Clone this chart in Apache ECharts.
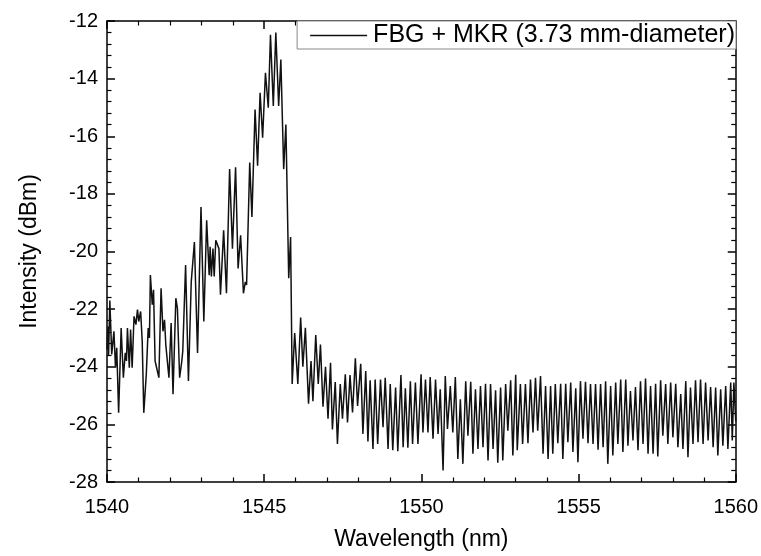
<!DOCTYPE html>
<html>
<head>
<meta charset="utf-8">
<script src="https://cdn.jsdelivr.net/npm/echarts@6/dist/echarts.min.js"></script>
<style>
html,body{margin:0;padding:0;background:#fff;}
#chart{width:761px;height:556px;}
</style>
</head>
<body>
<div id="chart"></div>
<script>
var seriesName = 'FBG + MKR (3.73 mm-diameter)';
var xTitle = 'Wavelength (nm)';
var yTitle = 'Intensity (dBm)';

var wavelength = [
1540.00,1540.03,1540.05,1540.09,1540.15,1540.22,1540.27,1540.31,1540.37,1540.45,
1540.52,1540.58,1540.62,1540.65,1540.71,1540.75,1540.80,1540.86,1540.92,1540.97,
1541.01,1541.07,1541.12,1541.17,1541.25,1541.31,1541.35,1541.38,1541.44,1541.48,
1541.53,1541.59,1541.65,1541.72,1541.78,1541.83,1541.87,1541.92,1541.97,1542.04,
1542.10,1542.19,1542.24,1542.31,1542.38,1542.41,1542.50,1542.59,1542.68,1542.73,
1542.78,1542.88,1542.99,1543.08,1543.17,1543.25,1543.28,1543.32,1543.37,1543.41,
1543.46,1543.50,1543.56,1543.61,1543.71,1543.80,1543.90,1543.99,1544.09,1544.17,
1544.25,1544.34,1544.40,1544.44,1544.54,1544.61,1544.71,1544.79,1544.87,1544.95,
1545.04,1545.13,1545.20,1545.29,1545.37,1545.46,1545.53,1545.62,1545.69,1545.78,
1545.84,1545.89,1545.97,1546.07,1546.16,1546.23,1546.31,1546.41,1546.49,1546.55,
1546.64,1546.72,1546.79,1546.87,1546.95,1547.03,1547.11,1547.17,1547.26,1547.33,
1547.42,1547.49,1547.58,1547.65,1547.73,1547.81,1547.90,1547.97,1548.07,1548.14,
1548.23,1548.30,1548.37,1548.46,1548.53,1548.61,1548.70,1548.78,1548.85,1548.94,
1549.01,1549.09,1549.18,1549.25,1549.35,1549.42,1549.49,1549.57,1549.65,1549.72,
1549.81,1549.89,1549.99,1550.05,1550.13,1550.21,1550.28,1550.37,1550.45,1550.53,
1550.60,1550.69,1550.76,1550.83,1550.92,1551.00,1551.08,1551.16,1551.24,1551.32,
1551.41,1551.48,1551.57,1551.64,1551.72,1551.80,1551.88,1551.96,1552.04,1552.12,
1552.20,1552.28,1552.36,1552.43,1552.52,1552.59,1552.68,1552.75,1552.84,1552.91,
1553.00,1553.05,1553.15,1553.22,1553.31,1553.39,1553.47,1553.55,1553.63,1553.70,
1553.79,1553.87,1553.95,1554.03,1554.11,1554.18,1554.26,1554.34,1554.43,1554.50,
1554.59,1554.66,1554.75,1554.82,1554.91,1554.98,1555.06,1555.14,1555.22,1555.30,
1555.38,1555.46,1555.54,1555.62,1555.70,1555.78,1555.86,1555.93,1556.02,1556.09,
1556.18,1556.25,1556.34,1556.41,1556.50,1556.57,1556.65,1556.73,1556.81,1556.89,
1556.97,1557.05,1557.13,1557.21,1557.29,1557.37,1557.45,1557.52,1557.61,1557.68,
1557.77,1557.84,1557.93,1558.00,1558.09,1558.16,1558.25,1558.32,1558.41,1558.48,
1558.56,1558.64,1558.72,1558.80,1558.88,1558.96,1559.04,1559.12,1559.20,1559.28,
1559.36,1559.43,1559.52,1559.59,1559.68,1559.75,1559.84,1559.89,1559.94,1560.00
];

var intensity = [
-23.40,-22.60,-23.60,-21.70,-23.57,-22.77,-24.03,-23.34,-25.60,-22.66,
-24.38,-23.52,-23.80,-22.66,-24.03,-22.71,-24.03,-22.25,-22.54,-22.02,
-22.43,-22.08,-23.11,-25.60,-24.26,-22.66,-23.00,-20.82,-21.85,-21.33,
-23.80,-23.86,-24.38,-21.28,-22.77,-22.37,-23.23,-23.29,-24.38,-22.48,
-24.95,-21.62,-21.97,-24.38,-23.80,-23.46,-20.47,-24.49,-21.05,-20.99,
-19.67,-23.52,-18.46,-22.43,-18.92,-20.82,-19.84,-20.87,-19.90,-20.87,
-19.61,-19.72,-19.90,-21.50,-19.26,-21.45,-17.14,-19.90,-17.08,-20.59,
-19.44,-21.45,-21.05,-21.16,-16.91,-18.80,-15.07,-17.02,-14.49,-16.05,
-13.80,-15.01,-12.48,-14.95,-12.40,-14.95,-13.34,-17.14,-15.59,-20.93,
-19.50,-24.60,-22.83,-24.60,-22.29,-24.00,-22.65,-25.28,-23.80,-25.20,
-22.90,-24.60,-23.23,-25.39,-24.00,-25.80,-23.86,-26.18,-24.53,-26.68,
-24.60,-25.80,-24.26,-25.93,-24.29,-25.59,-23.71,-25.36,-23.90,-26.33,
-24.15,-26.59,-24.47,-26.85,-24.44,-26.68,-24.44,-26.10,-24.38,-26.85,
-24.60,-26.90,-24.72,-26.93,-24.29,-26.79,-24.75,-26.81,-24.50,-26.68,
-24.55,-26.68,-24.26,-26.28,-24.44,-26.28,-24.36,-26.50,-24.44,-26.33,
-24.78,-27.60,-24.32,-26.16,-24.67,-26.28,-24.36,-27.20,-25.13,-27.37,
-24.50,-26.39,-24.52,-27.02,-24.78,-26.85,-24.67,-26.79,-24.59,-27.25,
-24.60,-26.85,-24.82,-27.33,-24.72,-27.25,-24.60,-26.22,-24.47,-27.08,
-24.28,-26.90,-24.60,-26.68,-24.60,-26.65,-24.44,-26.28,-24.38,-26.22,
-24.32,-27.02,-24.67,-27.20,-24.67,-27.02,-24.60,-26.65,-24.59,-27.20,
-24.59,-26.62,-24.55,-26.96,-24.75,-27.31,-24.50,-26.50,-24.52,-26.65,
-24.60,-26.68,-24.60,-26.88,-24.60,-26.79,-24.50,-27.37,-24.67,-27.08,
-24.55,-26.68,-24.44,-26.96,-24.44,-26.74,-24.84,-26.56,-24.70,-26.90,
-24.50,-26.68,-24.41,-27.02,-24.67,-27.02,-24.59,-27.11,-24.47,-26.39,
-24.60,-26.68,-24.55,-26.45,-24.59,-26.79,-24.95,-26.85,-24.50,-27.14,
-24.72,-26.68,-24.47,-26.62,-24.44,-26.68,-24.55,-26.56,-24.70,-26.79,
-24.72,-27.08,-24.78,-26.74,-24.67,-26.85,-24.55,-26.56,-24.55,-25.90
];

var xMin = 1540, xMax = 1560, xStep = 5;
var yMin = -28, yMax = -12, yStep = 2;

var points = wavelength.map(function (w, i) { return [w, intensity[i]]; });

var FONT = 'Liberation Sans, Arial, sans-serif';
var LINE_COLOR = '#111111';
var axisLine = { show: true, lineStyle: { color: '#000', width: 1.5 } };
function tick(){ return { show: true, inside: true, length: 8, lineStyle: { color: '#000', width: 1.5 } }; }
function minor(){ return { show: true, splitNumber: 5, length: 4.5, lineStyle: { color: '#000', width: 1.2 } }; }

var chart = echarts.init(document.getElementById('chart'), null, { renderer: 'canvas' });
chart.setOption({
  backgroundColor: '#fff',
  animation: false,
  color: [LINE_COLOR],
  grid: { left: 107, right: 25, top: 21, bottom: 68, containLabel: false },
  legend: {
    data: [{ name: seriesName, icon: 'rect' }],
    right: 25, top: 21,
    orient: 'horizontal',
    itemWidth: 57, itemHeight: 1.5, itemGap: 5,
    padding: [2, 1, 1, 13],
    borderColor: '#8a8a8a', borderWidth: 1,
    backgroundColor: '#fff',
    itemStyle: { color: LINE_COLOR },
    textStyle: { fontFamily: FONT, fontSize: 25, color: '#000', padding: [0, 0, 0, 1] }
  },
  xAxis: [{
    type: 'value', position: 'bottom', min: xMin, max: xMax, interval: xStep,
    name: xTitle, nameLocation: 'middle', nameGap: 46,
    nameTextStyle: { fontFamily: FONT, fontSize: 23, color: '#000' },
    axisLine: axisLine, axisTick: tick(), minorTick: minor(),
    splitLine: { show: false },
    axisLabel: { fontFamily: FONT, fontSize: 20, color: '#000', margin: 15,
      formatter: function (v) { return String(v); } }
  }, {
    type: 'value', position: 'top', min: xMin, max: xMax, interval: xStep,
    axisLine: axisLine, axisTick: tick(), minorTick: minor(),
    splitLine: { show: false }, axisLabel: { show: false }
  }],
  yAxis: [{
    type: 'value', position: 'left', min: yMin, max: yMax, interval: yStep,
    name: yTitle, nameLocation: 'middle', nameGap: 66,
    nameTextStyle: { fontFamily: FONT, fontSize: 23, color: '#000' },
    axisLine: axisLine, axisTick: tick(), minorTick: minor(),
    splitLine: { show: false },
    axisLabel: { fontFamily: FONT, fontSize: 20, color: '#000', margin: 9,
      formatter: function (v) { return String(v); } }
  }, {
    type: 'value', position: 'right', min: yMin, max: yMax, interval: yStep,
    axisLine: axisLine, axisTick: tick(), minorTick: minor(),
    splitLine: { show: false }, axisLabel: { show: false }
  }],
  series: [{
    name: seriesName,
    type: 'line',
    xAxisIndex: 0, yAxisIndex: 0,
    data: points,
    symbol: 'none',
    smooth: false,
    lineStyle: { color: LINE_COLOR, width: 1.5 }
  }]
});
</script>
</body>
</html>
